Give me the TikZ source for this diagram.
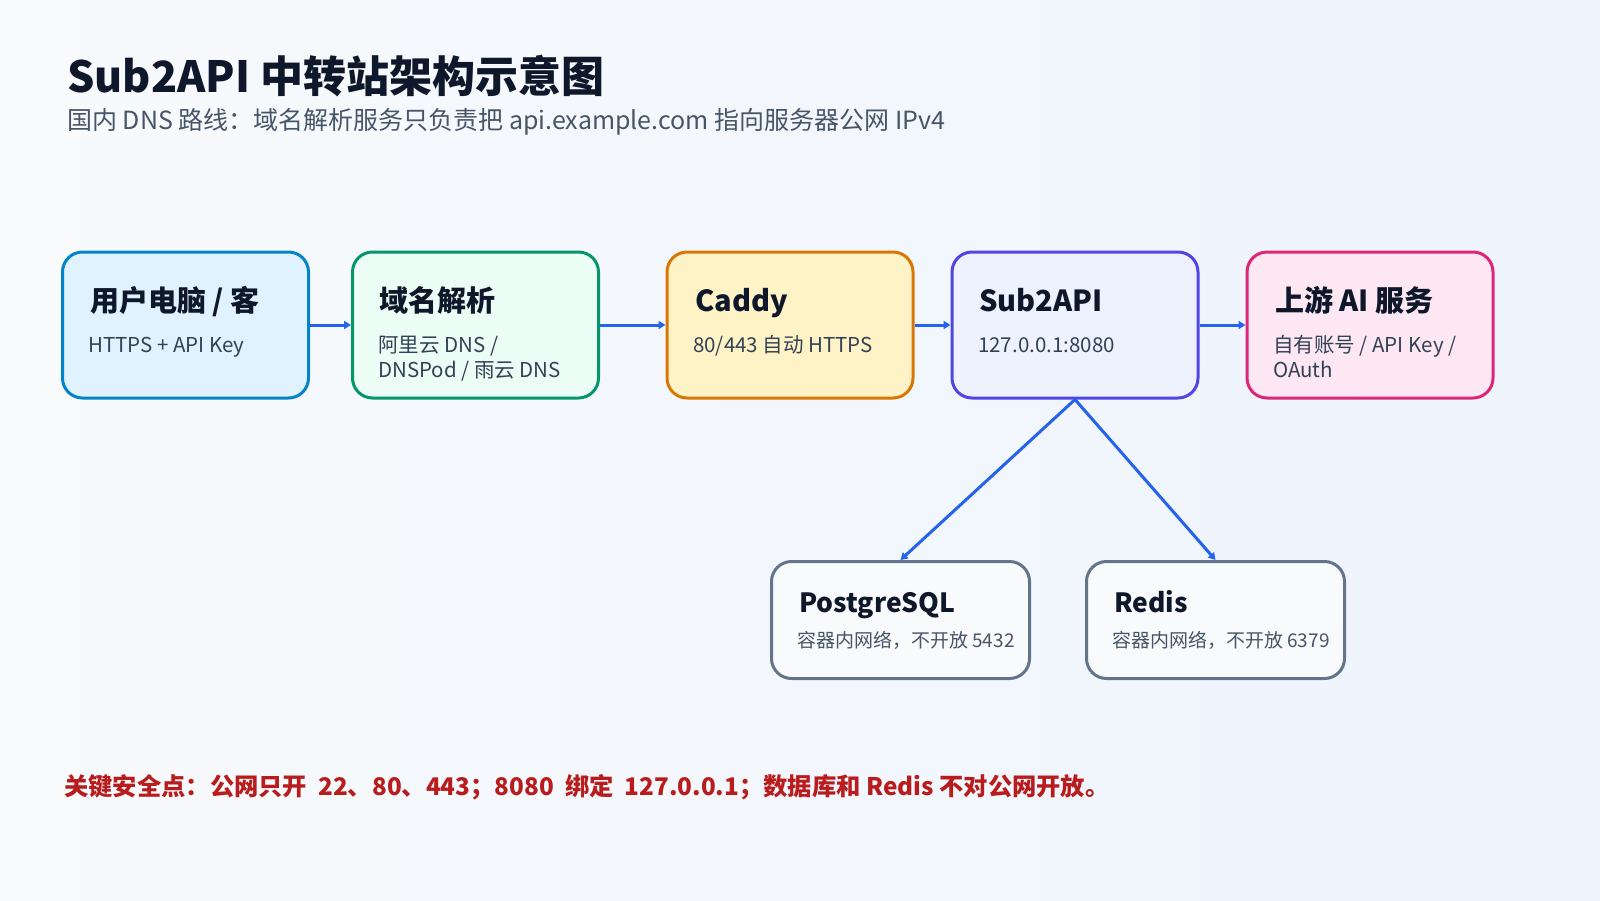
\documentclass[tikz,border=0pt]{standalone}
\usepackage{fontspec}
\setmainfont{Noto Sans CJK SC}
\usetikzlibrary{arrows.meta,positioning}
\definecolor{bgleft}{HTML}{F8FAFC}
\definecolor{bgright}{HTML}{EEF4FD}
\definecolor{ink}{HTML}{0F172A}
\definecolor{muted}{HTML}{334155}
\definecolor{subgray}{HTML}{475569}
\definecolor{flow}{HTML}{2563EB}
\definecolor{warn}{HTML}{B91C1C}
\definecolor{userfill}{HTML}{E0F2FE}
\definecolor{userline}{HTML}{0284C7}
\definecolor{dnsfill}{HTML}{ECFDF5}
\definecolor{dnsline}{HTML}{059669}
\definecolor{caddyfill}{HTML}{FEF3C7}
\definecolor{caddyline}{HTML}{D97706}
\definecolor{appfill}{HTML}{EEF2FF}
\definecolor{appline}{HTML}{4F46E5}
\definecolor{upfill}{HTML}{FCE7F3}
\definecolor{upline}{HTML}{DB2777}
\definecolor{dbfill}{HTML}{F8FAFC}
\definecolor{dbline}{HTML}{64748B}

\begin{document}
\begin{tikzpicture}[x=1pt,y=-1pt]
    \tikzset{
      box/.style={rounded corners=20pt,line width=3pt,minimum width=246pt,minimum height=146pt,anchor=center},
      dbbox/.style={box,draw=dbline,fill=dbfill,minimum width=258pt,minimum height=117pt},
      ttl/.style={anchor=base west,inner sep=0pt,text=ink,font=\fontsize{29}{33}\selectfont\bfseries},
      dbttl/.style={ttl,font=\fontsize{26.5}{32}\selectfont\bfseries},
      sub/.style={anchor=base west,inner sep=0pt,text=muted,font=\fontsize{20.5}{25.5}\selectfont,align=left},
      dbsub/.style={sub,text=subgray,font=\fontsize{19}{24}\selectfont},
      flowarrow/.style={draw=flow,line width=3pt,-{Triangle[length=7pt,width=8pt]}}
    }
    \shade[left color=bgleft,right color=bgright] (0,0) rectangle (1600,900);
    \useasboundingbox (0,0) rectangle (1600,900);
    % heading
    \node[anchor=base west,inner sep=0pt,text=ink,font=\fontsize{43}{50}\selectfont\bfseries] (title) at (67,92) {Sub2API 中转站架构示意图};
    \node[anchor=base west,inner sep=0pt,text=subgray,font=\fontsize{25}{30}\selectfont] (subtitle) at (67,129) {国内 DNS 路线：域名解析服务只负责把 api.example.com 指向服务器公网 IPv4};
    % request chain
    \node[box,draw=userline,fill=userfill] (user) at (185.5,325) {};
    \node[box,draw=dnsline,fill=dnsfill] (dns) at (475.5,325) {};
    \node[box,draw=caddyline,fill=caddyfill] (caddy) at (790,325) {};
    \node[box,draw=appline,fill=appfill] (sub2api) at (1075,325) {};
    \node[box,draw=upline,fill=upfill] (upstream) at (1370,325) {};
    \node[ttl] (user-t) at (90,311) {用户电脑 / 客};
    \node[sub] (user-s) at (88,352) {HTTPS + API Key};
    \node[ttl] (dns-t) at (379,311) {域名解析};
    \node[sub] (dns-s) at (378,377.5) {阿里云 DNS /\\DNSPod / 雨云 DNS};
    \node[ttl] (caddy-t) at (695,311) {Caddy};
    \node[sub] (caddy-s) at (693,352) {80/443 自动 HTTPS};
    \node[ttl] (sub2api-t) at (979,311) {Sub2API};
    \node[sub] (sub2api-s) at (978,352) {127.0.0.1:8080};
    \node[ttl] (upstream-t) at (1275,311) {上游 AI 服务};
    \node[sub] (upstream-s) at (1273,377.5) {自有账号 / API Key /\\OAuth};
    % storage
    \node[dbbox] (pg) at (900.5,620) {};
    \node[dbbox] (redis) at (1215.5,620) {};
    \node[dbttl] (pg-t) at (799,612) {PostgreSQL};
    \node[dbsub] (pg-s) at (797,647) {容器内网络，不开放 5432};
    \node[dbttl] (redis-t) at (1114,612) {Redis};
    \node[dbsub] (redis-s) at (1112,647) {容器内网络，不开放 6379};
    % connectors
    \draw[flowarrow] (user.east) -- (dns.west);
    \draw[flowarrow] (dns.east) -- (caddy.west);
    \draw[flowarrow] (caddy.east) -- (sub2api.west);
    \draw[flowarrow] (sub2api.east) -- (upstream.west);
    \draw[flowarrow] (sub2api.south) -- (pg.north);
    \draw[flowarrow] (sub2api.south) -- (redis.north);
    % note
    \node[anchor=base west,inner sep=0pt,text=warn,font=\fontsize{24.3}{28}\selectfont\bfseries] (warning) at (64,795) {关键安全点：公网只开 \ 22、80、443；8080 \ 绑定 \ 127.0.0.1；数据库和 Redis 不对公网开放。};
\end{tikzpicture}
\end{document}
